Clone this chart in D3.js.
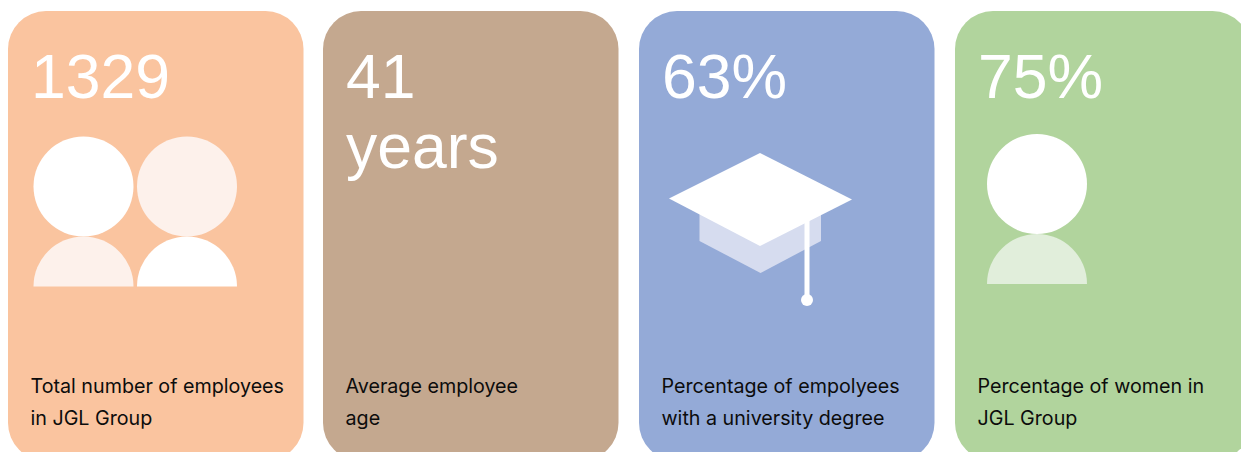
<!DOCTYPE html>
<html>
<head>
<meta charset="utf-8">
<script src="https://cdn.jsdelivr.net/npm/d3@7"></script>
<style>
  html, body { margin: 0; padding: 0; background: #fff; overflow: hidden; }
  svg { display: block; }
  .big { font-family: "Liberation Sans", sans-serif; }
  .caption { font-family: Inter, "Liberation Sans", sans-serif; }
</style>
</head>
<body>
<svg id="chart" width="1241" height="452"></svg>
<script>
// Headline figures and captions, one entry per card
const headlines = [["1329"], ["41", "years"], ["63%"], ["75%"]];
const captions = [
  ["Total number of employees", "in JGL Group"],
  ["Average employee", "age"],
  ["Percentage of empolyees", "with a university degree"],
  ["Percentage of women in", "JGL Group"]
];
const cardColors = ["#fac49f", "#c4a88f", "#94aad7", "#b1d49d"];
const icons = ["pair", "none", "cap", "single"];

const svg = d3.select("#chart");
const cardX = [8, 323, 639, 955];
const cardWidth = 295.5;

const cards = svg.selectAll("g.card")
  .data(headlines.map((h, i) => ({ h, caption: captions[i], color: cardColors[i], icon: icons[i], x: cardX[i] })))
  .join("g")
  .attr("class", "card")
  .attr("transform", d => `translate(${d.x},0)`);

cards.append("rect")
  .attr("y", 11).attr("width", cardWidth).attr("height", 450)
  .attr("rx", 38).attr("ry", 38)
  .attr("fill", d => d.color);

// Large white figure, possibly over two lines
cards.each(function (d) {
  const g = d3.select(this);
  g.selectAll("text.big").data(d.h).join("text")
    .attr("class", "big")
    .attr("x", 23)
    .attr("y", (_, i) => 98 + i * 70)
    .attr("fill", "#fff")
    .attr("font-size", 62.5)
    .text(t => t);
  g.selectAll("text.caption").data(d.caption).join("text")
    .attr("class", "caption")
    .attr("x", 22.5)
    .attr("y", (_, i) => 393 + i * 32)
    .attr("fill", "#0c0c0c")
    .attr("font-size", 19.7)
    .text(t => t);
});

// A person: round head above a half-disc body
const halfDisc = d3.arc().innerRadius(0).outerRadius(50)
  .startAngle(-Math.PI / 2).endAngle(Math.PI / 2);

function person(g, cx, top, headFill, bodyFill) {
  g.append("circle").attr("cx", cx).attr("cy", top + 50).attr("r", 50)
    .attr("fill", headFill);
  g.append("path").attr("d", halfDisc())
    .attr("transform", `translate(${cx},${top + 150})`)
    .attr("fill", bodyFill);
}

cards.filter(d => d.icon === "pair").each(function () {
  const g = d3.select(this);
  person(g, 75.5, 136.5, "#fff", "#fdf1eb");
  person(g, 179, 136.5, "#fdf1eb", "#fff");
});

cards.filter(d => d.icon === "single").each(function () {
  person(d3.select(this), 82, 134, "#fff", "#e1eedb");
});

// Graduation cap: pale base, white board, tassel with a bead
cards.filter(d => d.icon === "cap").each(function () {
  const g = d3.select(this);
  const line = d3.line();
  g.append("path")
    .attr("d", line([[60.5, 214], [121.5, 190], [182, 214], [182, 241], [121.5, 273], [60.5, 241]]) + "Z")
    .attr("fill", "#d6dcef");
  g.append("path")
    .attr("d", line([[30, 198.5], [121, 153], [213, 199.5], [121, 246]]) + "Z")
    .attr("fill", "#fff");
  g.append("rect").attr("x", 165.5).attr("y", 220).attr("width", 5).attr("height", 80).attr("fill", "#fff");
  g.append("circle").attr("cx", 168).attr("cy", 300).attr("r", 6).attr("fill", "#fff");
});
</script>
</body>
</html>
